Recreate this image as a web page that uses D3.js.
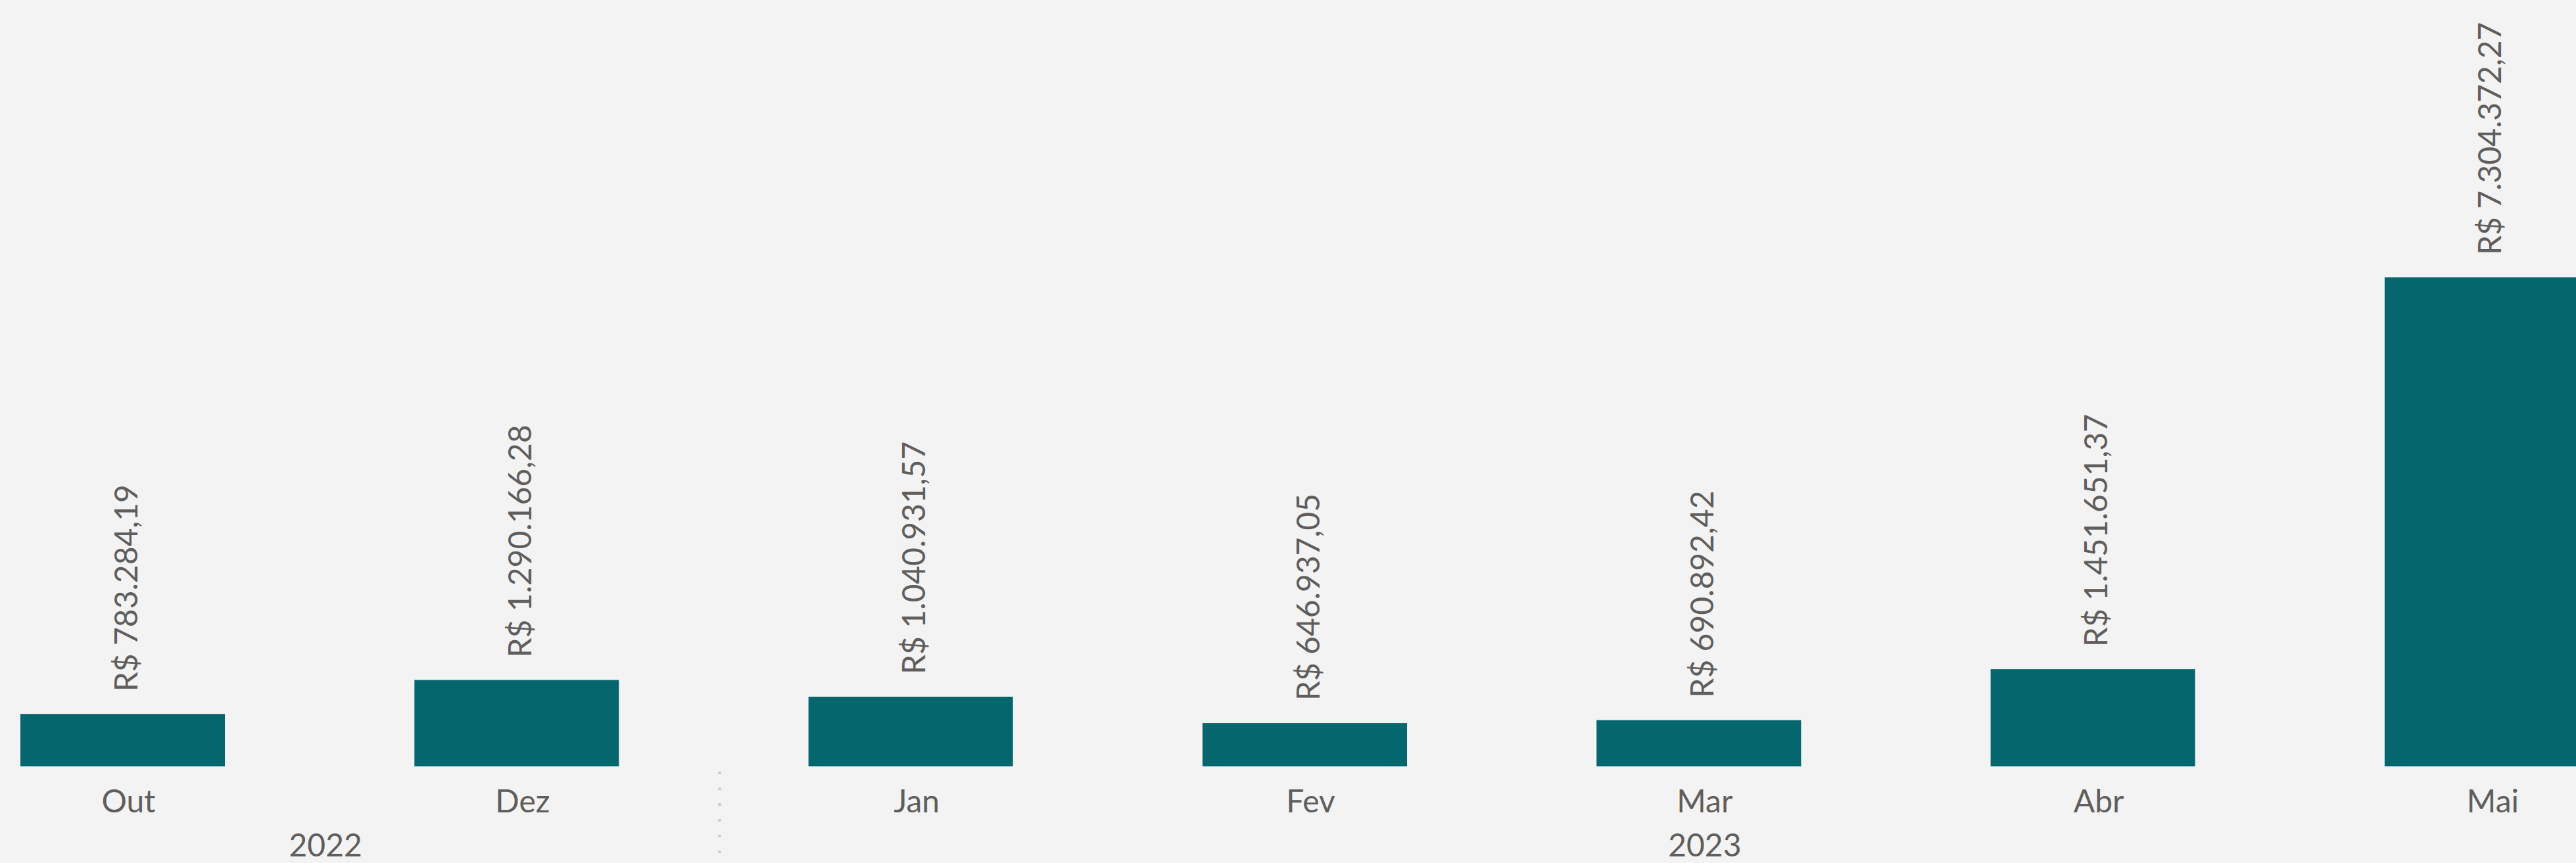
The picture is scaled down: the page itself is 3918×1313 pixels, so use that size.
<!DOCTYPE html>
<html>
<head>
<meta charset="utf-8">
<script src="https://cdn.jsdelivr.net/npm/d3@7"></script>
<style>
  html, body { margin: 0; padding: 0; background: #f3f3f3; overflow: hidden; }
  svg { display: block; }
</style>
</head>
<body>
<div id="chart"></div>
<script>
const months = ["Out", "Dez", "Jan", "Fev", "Mar", "Abr", "Mai"];
const years = ["2022", "2022", "2023", "2023", "2023", "2023", "2023"];
const values = [783284.19, 1290166.28, 1040931.57, 646937.05, 690892.42, 1451651.37, 7304372.27];

const width = 3918,
  height = 1313,
  baseY = 1166,
  topY = 422;

const font = "Lato, 'Open Sans', sans-serif";
const textColor = "#605e5c";

const ptBR = d3.formatLocale({
  decimal: ",",
  thousands: ".",
  grouping: [3],
  currency: ["R$ ", ""]
});
const fmt = ptBR.format("$,.2f");

const data = months.map((m, i) => ({month: m, year: years[i], value: values[i]}));

const x = d3.scaleBand()
  .domain(months)
  .range([31, 3938])
  .paddingInner(0.481)
  .paddingOuter(0);

const y = d3.scaleLinear()
  .domain([0, d3.max(values)])
  .range([baseY, topY]);

const svg = d3.select("#chart")
  .append("svg")
  .attr("width", width)
  .attr("height", height)
  .attr("viewBox", [0, 0, width, height]);

svg.append("rect")
  .attr("width", width)
  .attr("height", height)
  .attr("fill", "#f3f3f3");

// bars
svg.append("g")
  .selectAll("rect")
  .data(data)
  .join("rect")
    .attr("x", d => x(d.month))
    .attr("y", d => y(d.value))
    .attr("width", x.bandwidth())
    .attr("height", d => y(0) - y(d.value))
    .attr("fill", "#05666e");

// value labels, rotated
svg.append("g")
  .attr("font-family", font)
  .attr("font-size", 48)
  .attr("fill", textColor)
  .selectAll("text")
  .data(data)
  .join("text")
    .attr("transform", d => `translate(${x(d.month) + x.bandwidth() / 2 + 22},${y(d.value) - 34}) rotate(-90)`)
    .attr("text-anchor", "start")
    .text(d => fmt(d.value));

// month axis (shifted slightly right like the original)
const axisShift = 9;
svg.append("g")
  .attr("transform", `translate(${axisShift},${baseY})`)
  .call(d3.axisBottom(x).tickSize(0))
  .call(g => g.select(".domain").remove())
  .call(g => g.selectAll("text")
    .attr("dy", null)
    .attr("y", 70)
    .attr("font-family", font)
    .attr("font-size", 48)
    .attr("fill", textColor));

// year groups
const groups = d3.groups(data, d => d.year).map(([year, rows]) => {
  const first = rows[0].month, last = rows[rows.length - 1].month;
  return {
    year,
    x0: x(first),
    x1: x(last) + x.bandwidth()
  };
});

svg.append("g")
  .attr("transform", `translate(${axisShift},0)`)
  .attr("font-family", font)
  .attr("font-size", 48)
  .attr("fill", textColor)
  .attr("text-anchor", "middle")
  .selectAll("text")
  .data(groups)
  .join("text")
    .attr("x", d => (d.x0 + d.x1) / 2)
    .attr("y", 1303)
    .text(d => d.year);

// dotted separator between years
const gap = x.step() - x.bandwidth();
const separators = groups.slice(1).map(d => d.x0 - gap / 2);
svg.append("g")
  .attr("transform", `translate(${axisShift},0)`)
  .selectAll("line")
  .data(separators)
  .join("line")
    .attr("x1", d => d)
    .attr("x2", d => d)
    .attr("y1", 1174)
    .attr("y2", 1300)
    .attr("stroke", "#c8c8c8")
    .attr("stroke-width", 4)
    .attr("stroke-dasharray", "4 20");
</script>
</body>
</html>
